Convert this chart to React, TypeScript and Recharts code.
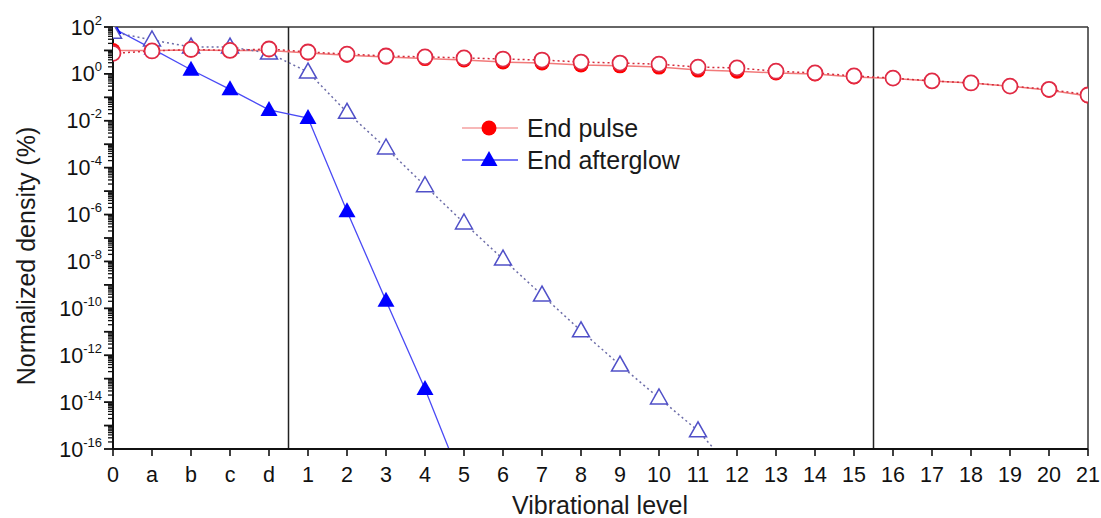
import React from "react";
import { LineChart, Line, XAxis, YAxis, ReferenceLine } from "recharts";

// vibrational levels on the x axis (0, the a-d states, then 1..21)
const levels = [
  "0", "a", "b", "c", "d",
  "1", "2", "3", "4", "5", "6", "7", "8", "9", "10",
  "11", "12", "13", "14", "15", "16", "17", "18", "19", "20", "21",
];

// End pulse (filled circles, solid line)
const pulseFilled = [
  10, 10, 10.5, 10, 10, 7.8, 6.3, 5.2, 4.5, 3.9, 3.2, 2.9, 2.4, 2.2, 1.95,
  1.45, 1.3, 1.1, 1.0, 0.74, 0.64, 0.5, 0.41, 0.3, 0.2, 0.115,
];
// pulse, open circles (dotted line)
const pulseOpen = [
  7.5, 9.5, 11, 10, 11.5, 8.6, 7, 5.8, 5.3, 4.8, 4.3, 3.9, 3.2, 2.9, 2.6,
  1.95, 1.8, 1.3, 1.1, 0.82, 0.66, 0.5, 0.41, 0.3, 0.22, 0.126,
];
// End afterglow (filled triangles, solid line)
const afterglowFilled = [
  90, 12, 1.5, 0.22, 0.029, 0.013, 1.4e-6, 2.1e-10, 3.6e-14, 2.5e-18,
];
// afterglow, open triangles (dotted line)
const afterglowOpen = [
  60, 28, 14, 14, 7.7, 1.2, 0.023, 6.9e-4, 1.7e-5, 4.4e-7, 1.26e-8, 3.7e-10,
  1.1e-11, 3.8e-13, 1.5e-14, 6e-16, 8e-18,
];

const decadeExponents = [-16, -15, -14, -13, -12, -11, -10, -9, -8, -7, -6, -5, -4, -3, -2, -1, 0, 1, 2];
const minorSteps = [2, 3, 4, 5, 6, 7, 8, 9];
const boundaries = [4.5, 19.5];

const data = levels.map((label, i) => ({
  idx: i,
  label,
  pulse: pulseFilled[i],
  pulseLater: pulseOpen[i],
  glow: afterglowFilled[i] ?? null,
  glowLater: afterglowOpen[i] ?? null,
}));

const yTicks = decadeExponents.flatMap((e) => [
  Number(`1e${e}`),
  ...(e < 2 ? minorSteps.map((m) => Number(`${m}e${e}`)) : []),
]);

const FONT = '"Liberation Sans", Arial, sans-serif';
const INK = "#111";
const CLIP_ID = "plot-area-clip";

function YTick(props: any) {
  const { x, y, payload } = props;
  const lg = Math.log10(payload.value);
  const exp = Math.round(lg);
  const major = Math.abs(lg - exp) < 1e-6;
  return (
    <g>
      <line x1={x} x2={x - (major ? 9 : 5)} y1={y} y2={y} stroke={INK} strokeWidth={major ? 1.8 : 1.3} />
      {major && exp % 2 === 0 && (
        <text x={x - 11} y={y + 7.5} textAnchor="end" fontSize={21.5} fill={INK} fontFamily={FONT}>
          10
          <tspan dy={-10} fontSize={13}>{exp}</tspan>
        </text>
      )}
    </g>
  );
}

function XTick(props: any) {
  const { x, y, payload } = props;
  return (
    <g>
      <line x1={x} x2={x} y1={y} y2={y + 7} stroke={INK} strokeWidth={1.6} />
      <text x={x} y={y + 33} textAnchor="middle" fontSize={21.5} fill={INK} fontFamily={FONT}>
        {levels[payload.value]}
      </text>
    </g>
  );
}

const circleDot = (filled: boolean, color: string) => (p: any) => {
  if (p.cx == null || p.cy == null || p.value == null) return <g key={p.key ?? p.index} />;
  return (
    <g key={p.key ?? p.index} clipPath={`url(#${CLIP_ID})`}>
      <circle
        cx={p.cx}
        cy={p.cy}
        r={7.5}
        fill={filled ? color : "#fff"}
        stroke={color}
        strokeWidth={filled ? 0 : 1.8}
      />
    </g>
  );
};

const triangleDot = (filled: boolean, color: string) => (p: any) => {
  if (p.cx == null || p.cy == null || p.value == null) return <g key={p.key ?? p.index} />;
  const { cx, cy } = p;
  return (
    <g key={p.key ?? p.index} clipPath={`url(#${CLIP_ID})`}>
      <path
        d={`M${cx},${cy - 9}L${cx - 8.5},${cy + 6}L${cx + 8.5},${cy + 6}Z`}
        fill={filled ? color : "#fff"}
        stroke={color}
        strokeWidth={filled ? 0 : 1.5}
      />
    </g>
  );
};

export default function App() {
  return (
    <div style={{ position: "absolute", left: 0, top: 0, width: 1101, height: 518, background: "#fff", fontFamily: FONT }}>
      <LineChart width={1101} height={518} data={data} margin={{ top: 27, right: 13, bottom: 0, left: 13 }}>
        <XAxis
          dataKey="idx"
          type="number"
          domain={[0, 25]}
          ticks={levels.map((_, i) => i)}
          interval={0}
          allowDataOverflow
          height={69}
          tickSize={0}
          tickMargin={0}
          tickLine={false}
          tick={(p: any) => <XTick {...p} />}
          axisLine={{ stroke: INK, strokeWidth: 2 }}
          label={() => (
            <g>
              <defs>
                <clipPath id={CLIP_ID}>
                  <rect x={113} y={27} width={975} height={422} />
                </clipPath>
              </defs>
              <text x={600} y={514} textAnchor="middle" fontSize={25} fill="#1a1a1a" fontFamily={FONT}>
                Vibrational level
              </text>
            </g>
          )}
        />
        <YAxis
          type="number"
          scale="log"
          domain={[1e-16, 100]}
          allowDataOverflow
          ticks={yTicks}
          interval={0}
          width={100}
          tickSize={0}
          tickMargin={0}
          tickLine={false}
          tick={(p: any) => <YTick {...p} />}
          axisLine={{ stroke: INK, strokeWidth: 2 }}
          label={() => (
            <text
              x={35}
              y={256}
              transform="rotate(-90, 35, 256)"
              textAnchor="middle"
              fontSize={25}
              fill="#1a1a1a"
              fontFamily={FONT}
            >
              Normalized density (%)
            </text>
          )}
        />
        <ReferenceLine y={100} stroke="#333" strokeWidth={1.5} />
        <ReferenceLine x={25} stroke="#333" strokeWidth={1.5} />
        {boundaries.map((b) => (
          <ReferenceLine key={b} x={b} stroke="#222" strokeWidth={1.5} />
        ))}
        <Line
          type="linear"
          dataKey="pulse"
          stroke="#f27a7a"
          strokeWidth={1.5}
          dot={circleDot(true, "#ff0000")}
          activeDot={false}
          isAnimationActive={false}
        />
        <Line
          type="linear"
          dataKey="glow"
          stroke="#4a4af5"
          strokeWidth={1.3}
          dot={triangleDot(true, "#0000ff")}
          activeDot={false}
          isAnimationActive={false}
        />
        <Line
          type="linear"
          dataKey="glowLater"
          stroke="#6c6ca8"
          strokeWidth={1.5}
          strokeDasharray="2 3"
          dot={triangleDot(false, "#5050c8")}
          activeDot={false}
          isAnimationActive={false}
        />
        <Line
          type="linear"
          dataKey="pulseLater"
          stroke="#d42a3a"
          strokeWidth={1.5}
          strokeDasharray="2 3"
          dot={circleDot(false, "#e02a44")}
          activeDot={false}
          isAnimationActive={false}
        />
      </LineChart>

      <div style={{ position: "absolute", left: 460, top: 112, fontSize: 25, color: "#1a1a1a" }}>
        <div style={{ display: "flex", alignItems: "center", height: 32 }}>
          <svg width={60} height={32}>
            <line x1={2} x2={58} y1={16} y2={16} stroke="#f4a0a0" strokeWidth={1.5} />
            <circle cx={29} cy={16} r={7.5} fill="#ff0000" />
          </svg>
          <span style={{ marginLeft: 7 }}>End pulse</span>
        </div>
        <div style={{ display: "flex", alignItems: "center", height: 32 }}>
          <svg width={60} height={32}>
            <line x1={2} x2={58} y1={16} y2={16} stroke="#4a4af5" strokeWidth={1.5} />
            <path d="M29,7L20.5,22L37.5,22Z" fill="#0000ff" />
          </svg>
          <span style={{ marginLeft: 7 }}>End afterglow</span>
        </div>
      </div>
    </div>
  );
}
